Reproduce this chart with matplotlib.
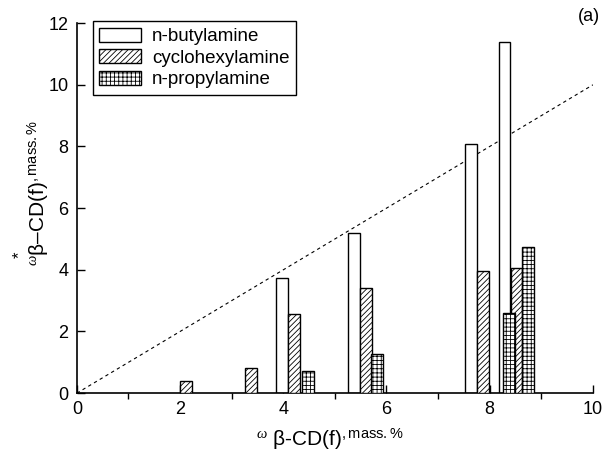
import matplotlib.pyplot as plt
from matplotlib.ticker import MultipleLocator

plt.rcParams['font.family'] = ['Liberation Sans', 'DejaVu Sans']
plt.rcParams['mathtext.fontset'] = 'custom'
plt.rcParams['mathtext.rm'] = 'Liberation Sans'
plt.rcParams['mathtext.it'] = 'Liberation Serif:italic'
plt.rcParams['hatch.linewidth'] = 0.6

# bar positions (x = omega beta-CD(f)) and heights
butyl_x = [3.98, 5.37, 7.64, 8.29]
butyl_y = [3.75, 5.20, 8.08, 11.40]
cyclo_x = [2.12, 3.38, 4.21, 5.60, 7.87, 8.52]
cyclo_y = [0.40, 0.82, 2.56, 3.40, 3.97, 4.05]
propyl_x = [4.48, 5.82, 8.37, 8.74]
propyl_y = [0.72, 1.26, 2.61, 4.75]
line_x = [0, 10]
line_y = [0, 10]

w = 0.225

fig = plt.figure(figsize=(6.05, 4.54), dpi=100)
ax = fig.add_axes([0.127, 0.134, 0.853, 0.815])

ax.plot(line_x, line_y, color='black', lw=0.8, dashes=(3, 3), zorder=1)
ax.bar(butyl_x, butyl_y, width=w, facecolor='white', edgecolor='black',
       lw=1.0, label='n-butylamine', zorder=2)
ax.bar(cyclo_x, cyclo_y, width=w, facecolor='white', edgecolor='black',
       lw=1.0, hatch='//////', label='cyclohexylamine', zorder=3)
ax.bar(propyl_x, propyl_y, width=w, facecolor='white', edgecolor='black',
       lw=1.0, hatch='++++', label='n-propylamine', zorder=4)

ax.set_xlim(0, 10)
ax.set_ylim(0, 12)
ax.xaxis.set_major_locator(MultipleLocator(2))
ax.xaxis.set_minor_locator(MultipleLocator(1))
ax.yaxis.set_major_locator(MultipleLocator(2))
ax.tick_params(axis='both', which='major', direction='in', length=6,
               width=1, labelsize=13, pad=6)
ax.tick_params(axis='x', which='minor', direction='out', length=4, width=1)
ax.spines['top'].set_visible(False)
ax.spines['right'].set_visible(False)
for s in ('left', 'bottom'):
    ax.spines[s].set_linewidth(1.2)

ax.set_xlabel(r'$^{\omega}$ β-CD(f)$^{\mathrm{,mass.\%}}$', fontsize=15)
ax.xaxis.set_label_coords(0.49, -0.09)
ax.set_ylabel(r'$^{\omega}$β–CD(f)$^{\mathrm{,mass.\%}}$', fontsize=15)
ax.yaxis.set_label_coords(-0.05, 0.54)
ax.text(-0.112, 0.375, '*', transform=ax.transAxes, rotation=90,
        ha='center', va='center', fontsize=12)

ax.text(1.014, 1.04, '(a)', transform=ax.transAxes, ha='right', va='top',
        fontsize=13)

ax.legend(loc='upper left', bbox_to_anchor=(0.031, 1.005), fontsize=13.5,
          frameon=True, fancybox=False, edgecolor='black', framealpha=1,
          handlelength=2.2, handleheight=0.75, borderpad=0.35,
          labelspacing=0.22, handletextpad=0.6, borderaxespad=0)

fig.savefig('out.png', dpi=100)
